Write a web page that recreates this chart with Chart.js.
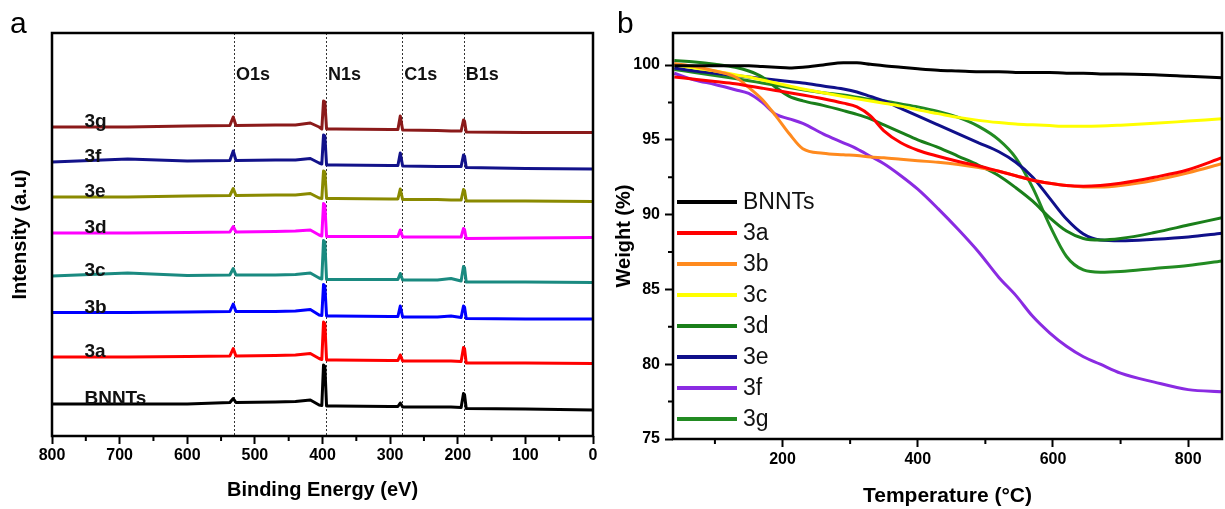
<!DOCTYPE html>
<html>
<head>
<meta charset="utf-8">
<script src="https://cdn.jsdelivr.net/npm/chart.js@4.4.1/dist/chart.umd.min.js"></script>
<style>
  html, body { margin: 0; padding: 0; background: #fff; }
  body { width: 1225px; height: 509px; position: relative; overflow: hidden; }
  canvas { position: absolute; top: 0; }
  #cA { left: 0; }
  #cB { left: 600px; }
</style>
</head>
<body>
<canvas id="cA" width="610" height="509"></canvas>
<canvas id="cB" width="625" height="509"></canvas>
<script>
// ---------------- Panel a: XPS survey ----------------
const bindingEnergy = [800, 688, 600, 537, 532, 528, 470, 440, 418, 405, 401, 398.5, 396.5, 394, 380, 300, 288.5, 285, 281.5, 230, 210, 195, 191.5, 190, 187.5, 100, 0];
const xps3g = [309, 309, 310, 310.5, 319, 310.5, 311, 311, 313, 309, 307, 335, 334, 307, 307, 306.5, 306.5, 320, 306, 305.5, 305, 305, 316, 315, 304, 303.5, 303.5];
const xps3f = [274, 277, 275, 275.5, 285, 275.5, 276, 276, 277.5, 273, 272, 301, 300, 271, 271, 270.5, 270.5, 283, 270, 269.5, 269.5, 269.5, 281, 280, 268.5, 267.5, 267];
const xps3e = [239, 239, 240, 240.5, 247.5, 240.5, 241, 241, 242.5, 238, 237.5, 265, 264, 237.5, 237.5, 237, 237, 247, 236.5, 236.5, 236, 236, 246.5, 245.5, 235, 235, 234.5];
const xps3d = [203, 203, 203.5, 204, 209.5, 204, 204.5, 205, 206, 201, 200, 232.5, 231, 199.5, 199.5, 199.5, 199.5, 206, 199, 199, 199, 199, 207.5, 206.5, 197.5, 198, 198.5];
const xps3c = [160, 163, 160.5, 161, 167.5, 161, 161, 161.5, 163, 158, 157, 195.5, 194, 156.5, 156.5, 156.5, 156.5, 162.5, 156, 156, 157.5, 155, 169.5, 168.5, 154, 154, 153.5];
const xps3b = [123.5, 123.5, 124, 124.5, 132, 124.5, 124.5, 125, 126.5, 121, 120.5, 151.5, 150, 120, 120, 119.5, 119.5, 130, 119, 119, 120, 118.5, 130, 129, 117.5, 117, 117];
const xps3a = [79, 79, 79.5, 80, 87.5, 80, 80.5, 81, 82.5, 77.5, 76.5, 114, 112.5, 76, 76, 75.5, 75.5, 81, 75, 75, 75, 74.5, 88.5, 87.5, 73, 73, 72.5];
const xpsBNNTs = [32, 32, 32, 33.5, 37.5, 33.5, 34, 34.5, 36, 31, 30.5, 71, 69.5, 30, 30, 29.5, 29.5, 33, 29, 29, 29, 28.5, 42.5, 41.5, 27.5, 27, 26];
const xpsNames = ['3g', '3f', '3e', '3d', '3c', '3b', '3a', 'BNNTs'];
const xpsValues = [xps3g, xps3f, xps3e, xps3d, xps3c, xps3b, xps3a, xpsBNNTs];
const xpsColors = ['#8b1a1a', '#12128a', '#8a8a00', '#ff00ff', '#1a8a80', '#0000ff', '#ff0000', '#000000'];
const peakNames = ['O1s', 'N1s', 'C1s', 'B1s'];
const peakEnergies = [531, 395, 282, 191];
const xTicksA = [0, 100, 200, 300, 400, 500, 600, 700, 800];
const xMinorA = [50, 150, 250, 350, 450, 550, 650, 750];

// ---------------- Panel b: TGA ----------------
const temperature = [40, 70, 100, 130, 150, 170, 190, 210, 230, 260, 290, 310, 330, 350, 375, 400, 430, 460, 490, 520, 545, 570, 595, 620, 645, 670, 700, 750, 800, 850];
const wBNNTs = [99.95, 99.95, 99.95, 99.95, 99.95, 99.9, 99.85, 99.8, 99.85, 100.0, 100.15, 100.15, 100.05, 99.95, 99.85, 99.75, 99.65, 99.6, 99.55, 99.55, 99.5, 99.5, 99.5, 99.45, 99.45, 99.4, 99.4, 99.35, 99.25, 99.15];
const w3a = [99.2, 99.05, 98.9, 98.75, 98.6, 98.45, 98.3, 98.15, 98.0, 97.75, 97.45, 97.2, 96.6, 95.6, 94.8, 94.3, 93.9, 93.55, 93.25, 92.9, 92.6, 92.3, 92.1, 91.95, 91.9, 91.95, 92.1, 92.5, 93.0, 93.8];
const w3b = [100.1, 99.9, 99.6, 99.2, 98.5, 97.7, 96.6, 95.4, 94.4, 94.1, 94.0, 93.95, 93.85, 93.8, 93.7, 93.6, 93.5, 93.35, 93.15, 92.9, 92.6, 92.3, 92.1, 91.95, 91.85, 91.85, 91.95, 92.3, 92.8, 93.4];
const w3c = [100.0, 99.8, 99.6, 99.35, 99.2, 99.0, 98.8, 98.6, 98.4, 98.15, 97.9, 97.75, 97.6, 97.45, 97.25, 97.0, 96.75, 96.5, 96.3, 96.15, 96.05, 96.0, 95.95, 95.9, 95.9, 95.92, 95.98, 96.1, 96.25, 96.4];
const w3d = [100.3, 100.2, 100.05, 99.85, 99.6, 99.2, 98.5, 97.9, 97.6, 97.3, 96.95, 96.7, 96.4, 96.0, 95.5, 95.0, 94.5, 93.9, 93.3, 92.6, 91.8, 90.9, 89.8, 88.9, 88.4, 88.3, 88.4, 88.8, 89.3, 89.8];
const w3e = [99.8, 99.6, 99.45, 99.3, 99.2, 99.1, 99.0, 98.9, 98.8, 98.6, 98.4, 98.2, 97.9, 97.6, 97.1, 96.6, 96.0, 95.4, 94.8, 94.2, 93.5, 92.5, 91.1, 89.7, 88.7, 88.3, 88.25, 88.35, 88.5, 88.75];
const w3f = [99.45, 99.0, 98.7, 98.35, 98.1, 97.5, 96.7, 96.4, 96.1, 95.4, 94.8, 94.4, 93.9, 93.4, 92.6, 91.7, 90.4, 89.0, 87.5, 85.8, 84.6, 83.2, 82.1, 81.2, 80.5, 80.0, 79.4, 78.8, 78.3, 78.15];
const w3g = [99.7, 99.5, 99.3, 99.1, 98.95, 98.8, 98.65, 98.5, 98.35, 98.15, 98.0, 97.85, 97.7, 97.6, 97.4, 97.2, 96.9, 96.5, 95.9, 95.0, 93.8, 91.8, 89.3, 87.2, 86.3, 86.15, 86.2, 86.4, 86.6, 86.9];
const tgaNames = ['BNNTs', '3a', '3b', '3c', '3d', '3e', '3f', '3g'];
const tgaValues = [wBNNTs, w3a, w3b, w3c, w3d, w3e, w3f, w3g];
const tgaColors = ['#000000', '#ff0000', '#ff8a1e', '#ffff00', '#1a7f1a', '#10108a', '#8a2be2', '#228b22'];
const xTicksB = [200, 400, 600, 800];
const yTicksB = [75, 80, 85, 90, 95, 100];
const yMinorB = [77.5, 82.5, 87.5, 92.5, 97.5];
const xMinorB = [100, 300, 500, 700];

const FONT = "'Liberation Sans', Arial, Helvetica, sans-serif";

function framePlugin(minorX, minorY) {
  return {
    id: 'frame',
    afterDraw(chart) {
      const { ctx, chartArea: a, scales } = chart;
      ctx.save();
      ctx.strokeStyle = '#000';
      ctx.lineWidth = 2.5;
      ctx.strokeRect(a.left, a.top, a.right - a.left, a.bottom - a.top);
      ctx.lineWidth = 2;
      ctx.beginPath();
      (minorX || []).forEach(v => {
        const px = scales.x.getPixelForValue(v);
        ctx.moveTo(px, a.bottom); ctx.lineTo(px, a.bottom + 5);
      });
      (minorY || []).forEach(v => {
        const py = scales.y.getPixelForValue(v);
        ctx.moveTo(a.left, py); ctx.lineTo(a.left - 5, py);
      });
      ctx.stroke();
      ctx.restore();
    }
  };
}

const xpsAnnot = {
  id: 'xpsAnnot',
  beforeDatasetsDraw(chart) {
    const { ctx, chartArea: a, scales: { x } } = chart;
    ctx.save();
    ctx.strokeStyle = '#333';
    ctx.lineWidth = 1;
    ctx.setLineDash([2, 2]);
    peakEnergies.forEach(e => {
      const px = Math.round(x.getPixelForValue(e)) + 0.5;
      ctx.beginPath(); ctx.moveTo(px, a.top); ctx.lineTo(px, a.bottom); ctx.stroke();
    });
    ctx.restore();
  },
  afterDatasetsDraw(chart) {
    const { ctx, scales: { x, y } } = chart;
    ctx.save();
    ctx.fillStyle = '#111';
    ctx.font = 'bold 18px ' + FONT;
    ctx.textBaseline = 'alphabetic';
    ctx.textAlign = 'left';
    peakNames.forEach((n, i) => {
      ctx.fillText(n, x.getPixelForValue(peakEnergies[i]) + 2, y.getPixelForValue(356));
    });
    ctx.font = 'bold 19px ' + FONT;
    chart.data.datasets.forEach(ds => {
      ctx.fillText(ds.label, x.getPixelForValue(752), y.getPixelForValue(ds.data[0].y));
    });
    ctx.font = '30px ' + FONT;
    ctx.fillStyle = '#000';
    ctx.fillText('a', 10, 33);
    ctx.restore();
  }
};

const tgaLegend = {
  id: 'tgaLegend',
  afterDraw(chart) {
    const { ctx, chartArea: a } = chart;
    ctx.save();
    ctx.font = '23px ' + FONT;
    ctx.textBaseline = 'middle';
    ctx.textAlign = 'left';
    chart.data.datasets.forEach((ds, i) => {
      const yy = 202 + i * 31;
      ctx.strokeStyle = ds.borderColor;
      ctx.lineWidth = 4;
      ctx.beginPath(); ctx.moveTo(a.left + 4, yy); ctx.lineTo(a.left + 64, yy); ctx.stroke();
      ctx.fillStyle = '#111';
      ctx.fillText(ds.label, a.left + 70, yy + 1);
    });
    ctx.font = '30px ' + FONT;
    ctx.fillStyle = '#000';
    ctx.textBaseline = 'alphabetic';
    ctx.fillText('b', 17, 33);
    ctx.restore();
  }
};

new Chart(document.getElementById('cA'), {
  type: 'line',
  data: {
    datasets: xpsNames.map((n, i) => ({
      label: n,
      data: bindingEnergy.map((e, k) => ({ x: e, y: xpsValues[i][k] })),
      borderColor: xpsColors[i],
      borderWidth: 3,
      borderJoinStyle: 'round',
      pointRadius: 0,
      tension: 0,
      fill: false
    }))
  },
  options: {
    responsive: false,
    animation: false,
    devicePixelRatio: 1,
    layout: { padding: { top: 33, right: 17, left: 0, bottom: 0 } },
    plugins: { legend: { display: false }, tooltip: { enabled: false } },
    scales: {
      x: {
        type: 'linear', reverse: true, min: 0, max: 800,
        afterFit: s => { s.height = 73; },
        afterBuildTicks: s => { s.ticks = xTicksA.map(v => ({ value: v })); },
        ticks: { color: '#000', font: { family: FONT, size: 16, weight: 'bold' }, padding: 2, maxRotation: 0 },
        grid: { display: true, drawOnChartArea: false, drawTicks: true, tickLength: 8, tickWidth: 2, tickColor: '#000' },
        border: { display: false },
        title: { display: true, text: 'Binding Energy (eV)', color: '#000', font: { family: FONT, size: 20, weight: 'bold' }, padding: { top: 0, bottom: 7 } }
      },
      y: {
        type: 'linear', min: 0, max: 403,
        afterFit: s => { s.width = 52; },
        ticks: { display: false },
        grid: { display: false },
        border: { display: false },
        title: { display: true, text: 'Intensity (a.u)', color: '#000', font: { family: FONT, size: 20, weight: 'bold' }, padding: { top: 8, bottom: 0 } }
      }
    }
  },
  plugins: [xpsAnnot, framePlugin(xMinorA, null)]
});

new Chart(document.getElementById('cB'), {
  type: 'line',
  data: {
    datasets: tgaNames.map((n, i) => ({
      label: n,
      data: temperature.map((t, k) => ({ x: t, y: tgaValues[i][k] })),
      borderColor: tgaColors[i],
      borderWidth: 3,
      pointRadius: 0,
      cubicInterpolationMode: 'monotone',
      fill: false
    }))
  },
  options: {
    responsive: false,
    animation: false,
    devicePixelRatio: 1,
    layout: { padding: { top: 33, right: 3, left: 0, bottom: 0 } },
    plugins: { legend: { display: false }, tooltip: { enabled: false } },
    scales: {
      x: {
        type: 'linear', min: 38, max: 850,
        afterFit: s => { s.height = 70; },
        afterBuildTicks: s => { s.ticks = xTicksB.map(v => ({ value: v })); },
        ticks: { color: '#000', font: { family: FONT, size: 16, weight: 'bold' }, padding: 3, maxRotation: 0 },
        grid: { display: true, drawOnChartArea: false, drawTicks: true, tickLength: 8, tickWidth: 2, tickColor: '#000' },
        border: { display: false },
        title: { display: true, text: 'Temperature (°C)', color: '#000', font: { family: FONT, size: 21, weight: 'bold' }, padding: { top: 0, bottom: 0 } }
      },
      y: {
        type: 'linear', min: 75, max: 102.14,
        afterFit: s => { s.width = 73; },
        afterBuildTicks: s => { s.ticks = yTicksB.map(v => ({ value: v })); },
        ticks: { color: '#000', font: { family: FONT, size: 16, weight: 'bold' }, padding: 5 },
        grid: { display: true, drawOnChartArea: false, drawTicks: true, tickLength: 8, tickWidth: 2, tickColor: '#000' },
        border: { display: false },
        title: { display: true, text: 'Weight (%)', color: '#000', font: { family: FONT, size: 20, weight: 'bold' }, padding: { top: 12, bottom: 0 } }
      }
    }
  },
  plugins: [tgaLegend, framePlugin(xMinorB, yMinorB)]
});
</script>
</body>
</html>
